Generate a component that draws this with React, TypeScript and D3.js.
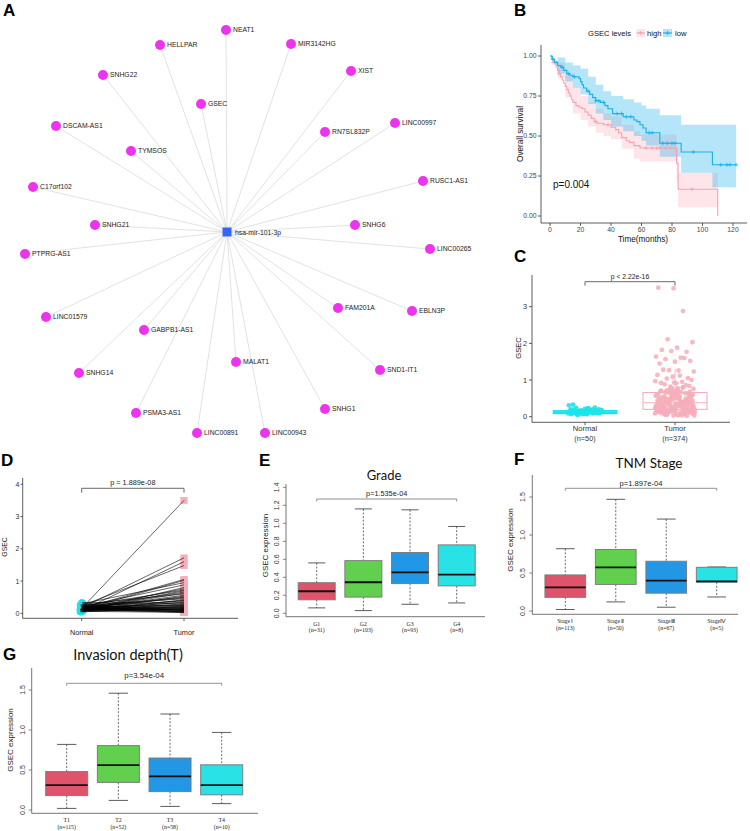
import React from 'react';
import * as d3 from 'd3';

const SANS = "'Liberation Sans', Arial, Helvetica, sans-serif";
const SERIF = "'Liberation Serif', 'Times New Roman', serif";
const TITLEF = "Lato, 'Open Sans', sans-serif";

// ---------- Panel A: ceRNA network ----------
const hubName = 'hsa-mir-101-3p';
const lncNames = ['NEAT1', 'HELLPAR', 'SNHG22', 'GSEC', 'DSCAM-AS1', 'TYMSOS', 'C17orf102', 'MIR3142HG', 'XIST', 'LINC00997', 'RN7SL832P', 'RUSC1-AS1', 'SNHG21', 'PTPRG-AS1', 'LINC01579', 'GABPB1-AS1', 'SNHG14', 'MALAT1', 'SNHG6', 'LINC00265', 'FAM201A', 'EBLN3P', 'SND1-IT1', 'SNHG1', 'PSMA3-AS1', 'LINC00891', 'LINC00943'];
const lncDX = [-1, -67, -124, -26, -171, -96, -194, 64, 124, 168, 98, 196, -132, -202, -181, -83, -148, 9, 128, 203, 111, 185, 153, 98, -91, -30, 38];
const lncDY = [-202, -187, -157, -128, -106, -81, -45, -188, -161, -109, -100, -51, -7, 22, 85, 98, 141, 130, -7, 17, 76, 79, 138, 177, 181, 201, 201];

// ---------- Panel B: Kaplan-Meier ----------
const kmLowT = [0, 1.5, 3, 5, 7, 9, 11, 13, 15, 19, 20, 21, 22, 24, 26, 28, 30, 33, 36, 38, 41, 48, 55, 57, 59, 61, 63, 72, 86, 106.5];
const kmLowS = [1.0, 0.98, 0.96, 0.94, 0.93, 0.91, 0.89, 0.88, 0.87, 0.86, 0.84, 0.82, 0.80, 0.78, 0.76, 0.74, 0.72, 0.71, 0.69, 0.67, 0.64, 0.62, 0.60, 0.59, 0.57, 0.55, 0.52, 0.455, 0.40, 0.32];
const kmLowEnd = 122;
const kmHighT = [0, 1, 2, 3, 4, 5, 6, 7, 8, 9, 10, 11, 12, 13, 14, 15, 17, 19, 21, 23, 25, 27, 29, 31, 35, 40, 43, 45, 47, 50, 52, 55, 59, 83, 84, 110];
const kmHighS = [1.0, 0.98, 0.96, 0.95, 0.93, 0.91, 0.89, 0.87, 0.85, 0.83, 0.81, 0.79, 0.77, 0.75, 0.73, 0.71, 0.69, 0.68, 0.67, 0.65, 0.63, 0.61, 0.59, 0.58, 0.57, 0.555, 0.54, 0.52, 0.49, 0.47, 0.46, 0.44, 0.425, 0.33, 0.167, 0.0];
const kmHighEnd = 110;
const bandLowT = [0, 5, 10, 15, 20, 25, 30, 35, 40, 48, 55, 60, 63, 72, 86, 106.5, 122];
const bandLowUp = [1.0, 0.99, 0.96, 0.94, 0.92, 0.87, 0.82, 0.78, 0.75, 0.73, 0.71, 0.69, 0.67, 0.63, 0.57, 0.57, 0.57];
const bandLowLo = [1.0, 0.89, 0.84, 0.80, 0.76, 0.70, 0.64, 0.60, 0.56, 0.53, 0.50, 0.47, 0.44, 0.37, 0.27, 0.18, 0.18];
const bandHighT = [0, 5, 10, 15, 20, 25, 30, 35, 40, 47, 55, 59, 83, 84, 110];
const bandHighUp = [1.0, 0.96, 0.88, 0.80, 0.75, 0.71, 0.67, 0.64, 0.62, 0.57, 0.53, 0.51, 0.42, 0.27, 0.27];
const bandHighLo = [1.0, 0.86, 0.74, 0.64, 0.60, 0.56, 0.52, 0.50, 0.48, 0.42, 0.36, 0.34, 0.22, 0.055, 0.055];
const censLow = [2, 4, 8, 12, 16, 25, 30, 32, 35, 44, 47, 50, 53, 65, 67, 74, 77, 80, 82, 94, 112, 116, 118, 122];
const censHigh = [2, 6, 30, 38, 63, 67, 70, 72, 76, 79, 82, 93];
const kmTicksX = [0, 20, 40, 60, 80, 100, 120];
const kmTicksY = [0, 0.25, 0.5, 0.75, 1.0];

// ---------- Panel C: Normal vs Tumor scatter ----------
const cGroups = ['Normal', 'Tumor'];
const cCounts = ['(n=50)', '(n=374)'];
const normalC = [0.12, 0.15, 0.09, 0.18, 0.22, 0.11, 0.14, 0.08, 0.2, 0.13, 0.16, 0.1, 0.07, 0.19, 0.25, 0.12, 0.31, 0.17, 0.06, 0.14, 0.21, 0.11, 0.09, 0.15, 0.13, 0.23, 0.1, 0.18, 0.08, 0.16, 0.12, 0.05, 0.2, 0.14, 0.33, 0.11, 0.17, 0.09, 0.13, 0.24, 0.1, 0.15, 0.07, 0.19, 0.12, 0.16, 0.08, 0.14, 0.11, 0.13];
const tumorC = [3.5, 3.52, 2.88, 2.11, 2.03, 1.88, 1.82, 1.77, 1.79, 1.64, 1.61, 1.57, 1.52, 1.5, 1.45, 1.6, 1.27, 1.23, 1.26, 1.28, 1.05, 1.09, 1.14, 0.95, 1.04, 1.0, 0.91, 0.92, 0.86, 0.82, 0.97, 1.12, 0.88, 0.84, 0.93,
  0.41, 0.12, 0.66, 0.28, 0.05, 0.52, 0.19, 0.74, 0.33, 0.08, 0.45, 0.61, 0.23, 0.15, 0.38, 0.7, 0.03, 0.29, 0.55, 0.11,
  0.47, 0.2, 0.79, 0.36, 0.09, 0.62, 0.26, 0.42, 0.14, 0.57, 0.31, 0.06, 0.68, 0.22, 0.49, 0.17, 0.35, 0.76, 0.04, 0.44,
  0.27, 0.59, 0.13, 0.39, 0.72, 0.21, 0.5, 0.1, 0.64, 0.32, 0.18, 0.46, 0.07, 0.54, 0.25, 0.37, 0.8, 0.16, 0.43, 0.6,
  0.3, 0.02, 0.48, 0.24, 0.67, 0.12, 0.4, 0.56, 0.19, 0.34, 0.73, 0.09, 0.51, 0.28, 0.63, 0.15, 0.44, 0.22, 0.05, 0.58,
  0.36, 0.71, 0.18, 0.47, 0.26, 0.11, 0.53, 0.39, 0.65, 0.2, 0.08, 0.45, 0.3, 0.77, 0.14, 0.42, 0.24, 0.6, 0.35, 0.06,
  0.5, 0.17, 0.69, 0.29, 0.43, 0.12, 0.55, 0.21, 0.38, 0.03, 0.62, 0.27, 0.48, 0.16, 0.75, 0.33, 0.1, 0.57, 0.23, 0.4,
  0.66, 0.19, 0.31, 0.52, 0.07, 0.46, 0.25, 0.7, 0.13, 0.37, 0.59, 0.22, 0.04, 0.44, 0.32, 0.64, 0.18, 0.49, 0.28, 0.09,
  0.54, 0.35, 0.15, 0.68, 0.26, 0.41, 0.11, 0.6, 0.3, 0.2, 0.47, 0.78, 0.14, 0.38, 0.24, 0.56, 0.08, 0.43, 0.33, 0.17];
const cBoxNormal = [0.05, 0.09, 0.125, 0.16, 0.25];
const cBoxTumor = [0.02, 0.2, 0.38, 0.66, 1.3];
const cTicks = [0, 1, 2, 3];

// ---------- Panel D: paired ----------
const dGroups = ['Normal', 'Tumor'];
const normalD = [0.12, 0.18, 0.08, 0.25, 0.15, 0.1, 0.3, 0.2, 0.05, 0.14, 0.22, 0.09, 0.17, 0.11, 0.28, 0.13, 0.07, 0.19, 0.16, 0.24, 0.06, 0.12, 0.21, 0.1, 0.15, 0.33, 0.08, 0.18, 0.13, 0.26, 0.11, 0.04, 0.2, 0.14, 0.09, 0.17, 0.23, 0.12, 0.07, 0.16, 0.1, 0.19, 0.13, 0.27, 0.08, 0.15, 0.11, 0.22, 0.06, 0.14];
const tumorD = [3.5, 1.72, 1.6, 1.48, 1.05, 1.02, 0.95, 0.88, 0.8, 0.76, 0.72, 0.7, 0.66, 0.63, 0.6, 0.56, 0.53, 0.5, 0.48, 0.45, 0.42, 0.4, 0.38, 0.35, 0.33, 0.31, 0.29, 0.27, 0.25, 0.24, 0.22, 0.21, 0.2, 0.18, 0.17, 0.16, 0.15, 0.14, 0.13, 0.12, 0.11, 0.1, 0.09, 0.08, 0.07, 0.06, 0.05, 0.04, 0.03, 0.02];
const dTicks = [0, 1, 2, 3, 4];

// ---------- Panels E, F, G: box plots [lower whisker, q1, median, q3, upper whisker] ----------
const boxColors = ['#DF536B', '#61D04F', '#2297E6', '#28E2E5'];
const eGroups = ['G1', 'G2', 'G3', 'G4'];
const eCounts = ['(n=31)', '(n=103)', '(n=93)', '(n=8)'];
const eStats = [[0.06, 0.15, 0.245, 0.34, 0.56], [0.03, 0.18, 0.345, 0.585, 1.16], [0.10, 0.33, 0.455, 0.675, 1.15], [0.115, 0.305, 0.43, 0.76, 0.965]];
const eTicks = [0, 0.2, 0.4, 0.6, 0.8, 1.0, 1.2, 1.4];
const fGroups = ['Stage Ⅰ', 'Stage Ⅱ', 'StageⅢ', 'StageⅣ'];
const fCounts = ['(n=113)', '(n=50)', '(n=67)', '(n=5)'];
const fStats = [[0.02, 0.18, 0.31, 0.475, 0.82], [0.12, 0.35, 0.575, 0.81, 1.47], [0.05, 0.235, 0.40, 0.655, 1.21], [0.185, 0.38, 0.39, 0.575, 0.58]];
const gGroups = ['T1', 'T2', 'T3', 'T4'];
const gCounts = ['(n=115)', '(n=52)', '(n=58)', '(n=10)'];
const gStats = [[0.02, 0.18, 0.31, 0.48, 0.82], [0.12, 0.345, 0.56, 0.805, 1.46], [0.045, 0.23, 0.42, 0.65, 1.20], [0.08, 0.19, 0.31, 0.565, 0.97]];
const fgTicks = [0, 0.5, 1.0, 1.5];

const jit = (i: number) => ((i * 0.6180339887 + 0.137) % 1) - 0.5;

function PanelLabel({ x, y, t }: { x: number; y: number; t: string }) {
  return <text x={x} y={y} fontFamily={SANS} fontWeight="bold" fontSize={17} fill="#000">{t}</text>;
}

function Network() {
  const xA = d3.scaleLinear().domain([-227, 293]).range([0, 520]);
  const yA = d3.scaleLinear().domain([-232, 218]).range([0, 450]);
  const hx = xA(0), hy = yA(0);
  return (
    <g>
      {lncNames.map((n, i) => (
        <line key={'e' + n} x1={hx} y1={hy} x2={xA(lncDX[i])} y2={yA(lncDY[i])} stroke="#d6d6d6" strokeWidth={0.7} />
      ))}
      {lncNames.map((n, i) => (
        <g key={n}>
          <circle cx={xA(lncDX[i])} cy={yA(lncDY[i])} r={5} fill="#EE33EE" />
          <text x={xA(lncDX[i]) + 7} y={yA(lncDY[i])} dy="0.35em" fontSize={6.8} fontFamily={SANS} fill="#222">{n}</text>
        </g>
      ))}
      <rect x={hx - 4.5} y={hy - 4.5} width={9} height={9} fill="#3366FF" />
      <text x={hx + 8} y={hy} dy="0.4em" fontSize={6.8} fontFamily={SANS} fill="#222">{hubName}</text>
    </g>
  );
}

function KM() {
  const xB = d3.scaleLinear().domain([0, 120]).range([550, 733]);
  const yB = d3.scaleLinear().domain([0, 1]).range([216, 56]);
  const line = d3.line<number[]>().x(d => xB(d[0])).y(d => yB(d[1])).curve(d3.curveStepAfter);
  const area = d3.area<number[]>().x(d => xB(d[0])).y0(d => yB(d[2])).y1(d => yB(d[1])).curve(d3.curveStepAfter);
  const lowPts = kmLowT.map((t, i) => [t, kmLowS[i]]).concat([[kmLowEnd, kmLowS[kmLowS.length - 1]]]);
  const highPts = kmHighT.map((t, i) => [t, kmHighS[i]]).concat([[kmHighEnd, kmHighS[kmHighS.length - 1]]]);
  const lowBand = bandLowT.map((t, i) => [t, bandLowUp[i], bandLowLo[i]]);
  const highBand = bandHighT.map((t, i) => [t, bandHighUp[i], bandHighLo[i]]);
  const stepAt = (ts: number[], ss: number[], t: number) => { let v = ss[0]; ts.forEach((tt, i) => { if (tt <= t) v = ss[i]; }); return v; };
  const pink = '#F4A3B4', blue = '#1AAFE8';
  const cross = (x: number, y: number) => `M${x - 2},${y}h4M${x},${y - 2}v4`;
  return (
    <g fontFamily={SANS}>
      <path d={area(highBand) || ''} fill="#F7A8B8" fillOpacity={0.3} />
      <path d={area(lowBand) || ''} fill="#2BB5EE" fillOpacity={0.35} />
      <path d={line(highPts) || ''} fill="none" stroke={pink} strokeWidth={1.1} />
      <path d={line(lowPts) || ''} fill="none" stroke={blue} strokeWidth={1.1} />
      {censHigh.map((t, i) => <path key={'ch' + i} d={cross(xB(t), yB(stepAt(kmHighT, kmHighS, t)))} stroke={pink} strokeWidth={0.8} />)}
      {censLow.map((t, i) => <path key={'cl' + i} d={cross(xB(t), yB(stepAt(kmLowT, kmLowS, t)))} stroke={blue} strokeWidth={0.8} />)}
      <line x1={541} x2={541} y1={45} y2={223} stroke="#333" strokeWidth={0.8} />
      <line x1={541} x2={747} y1={223} y2={223} stroke="#333" strokeWidth={0.8} />
      {kmTicksY.map(v => (
        <g key={'ky' + v}>
          <line x1={538} x2={541} y1={yB(v)} y2={yB(v)} stroke="#333" strokeWidth={0.8} />
          <text x={536.5} y={yB(v)} dy="0.35em" textAnchor="end" fontSize={6.8} fill="#444">{d3.format('.2f')(v)}</text>
        </g>
      ))}
      {kmTicksX.map(v => (
        <g key={'kx' + v}>
          <line x1={xB(v)} x2={xB(v)} y1={223} y2={226} stroke="#333" strokeWidth={0.8} />
          <text x={xB(v)} y={231.5} textAnchor="middle" fontSize={6.8} fill="#444">{v}</text>
        </g>
      ))}
      <text x={643} y={241.5} textAnchor="middle" fontSize={8.2} fill="#111">Time(months)</text>
      <text transform="translate(522.5,134) rotate(-90)" textAnchor="middle" fontSize={8.2} fill="#111">Overall survival</text>
      <text x={553} y={187.5} fontSize={10} fill="#111">p=0.004</text>
      <text x={588} y={36} fontSize={7.6} fill="#111">GSEC levels</text>
      <rect x={636.5} y={29} width={8.5} height={8} fill="#F7A8B8" fillOpacity={0.3} />
      <line x1={636.5} x2={645} y1={33} y2={33} stroke={pink} strokeWidth={1.1} />
      <path d={cross(640.75, 33)} stroke={pink} strokeWidth={0.8} />
      <text x={647} y={36} fontSize={7.6} fill="#111">high</text>
      <rect x={663} y={29} width={9} height={8} fill="#2BB5EE" fillOpacity={0.35} />
      <line x1={663} x2={672} y1={33} y2={33} stroke={blue} strokeWidth={1.1} />
      <path d={cross(667.5, 33)} stroke={blue} strokeWidth={0.8} />
      <text x={675} y={36} fontSize={7.6} fill="#111">low</text>
    </g>
  );
}

function PanelC() {
  const yC = d3.scaleLinear().domain([0, 3]).range([416.7, 306.7]);
  const xC = d3.scalePoint().domain(cGroups).range([585, 675]);
  const xn = xC('Normal') as number, xt = xC('Tumor') as number;
  const cyan = '#1CE3EA', pink = '#F6AEBB';
  const box = (s: number[], x: number, w: number, col: string, sw: number) => (
    <g>
      <line x1={x} x2={x} y1={yC(s[4])} y2={yC(s[3])} stroke={col} strokeWidth={0.9} />
      <line x1={x} x2={x} y1={yC(s[1])} y2={yC(s[0])} stroke={col} strokeWidth={0.9} />
      <rect x={x - w / 2} y={yC(s[3])} width={w} height={yC(s[1]) - yC(s[3])} fill="none" stroke={col} strokeWidth={sw} />
      <line x1={x - w / 2} x2={x + w / 2} y1={yC(s[2])} y2={yC(s[2])} stroke={col} strokeWidth={sw} />
    </g>
  );
  return (
    <g fontFamily={SANS}>
      {box(cBoxNormal, xn, 63, cyan, 1.6)}
      {box(cBoxTumor, xt, 64, pink, 1.1)}
      {normalC.map((v, i) => <circle key={'n' + i} cx={xn + jit(i) * 34} cy={yC(v)} r={2.4} fill={cyan} fillOpacity={0.9} />)}
      {tumorC.map((v, i) => <circle key={'t' + i} cx={xt + jit(i + 7) * 40} cy={yC(v)} r={2.4} fill={pink} fillOpacity={0.85} />)}
      <line x1={532} x2={532} y1={275} y2={422.3} stroke="#333" strokeWidth={0.8} />
      <line x1={532} x2={730} y1={422.3} y2={422.3} stroke="#333" strokeWidth={0.8} />
      {cTicks.map(v => (
        <g key={'ct' + v}>
          <line x1={529} x2={532} y1={yC(v)} y2={yC(v)} stroke="#333" strokeWidth={0.8} />
          <text x={527} y={yC(v)} dy="0.35em" textAnchor="end" fontSize={7.3} fill="#333">{v}</text>
        </g>
      ))}
      {cGroups.map((g, i) => (
        <g key={g}>
          <line x1={xC(g) as number} x2={xC(g) as number} y1={422.3} y2={425.3} stroke="#333" strokeWidth={0.8} />
          <text x={xC(g) as number} y={431} textAnchor="middle" fontSize={7.6} fill="#333">{g}</text>
          <text x={xC(g) as number} y={441.3} textAnchor="middle" fontSize={7.3} fill="#333">{cCounts[i]}</text>
        </g>
      ))}
      <text transform="translate(521,348) rotate(-90)" textAnchor="middle" fontSize={7.6} fill="#111">GSEC</text>
      <path d={`M${xn},285.7V281.7H${xt}V285.7`} fill="none" stroke="#444" strokeWidth={0.8} />
      <text x={(xn + xt) / 2} y={279} textAnchor="middle" fontSize={6.8} fill="#222">p &lt; 2.22e-16</text>
    </g>
  );
}

function PanelD() {
  const yD = d3.scaleLinear().domain([0, 4]).range([613.3, 484.3]);
  const xD = d3.scalePoint().domain(dGroups).range([81.7, 184]);
  const xn = xD('Normal') as number, xt = xD('Tumor') as number;
  return (
    <g fontFamily={SANS}>
      {normalD.map((v, i) => <circle key={'dn' + i} cx={xn + jit(i) * 3} cy={yD(v)} r={3.6} fill="#1CE3EA" />)}
      {tumorD.map((v, i) => <rect key={'dt' + i} x={xt - 3.6} y={yD(v) - 3.4} width={7.2} height={6.8} fill="#F6AEBB" />)}
      {normalD.map((v, i) => <line key={'dl' + i} x1={xn + jit(i) * 3} y1={yD(v)} x2={xt} y2={yD(tumorD[i])} stroke="#000" strokeWidth={0.6} />)}
      <line x1={22.7} x2={22.7} y1={478} y2={618.3} stroke="#333" strokeWidth={0.8} />
      <line x1={22.7} x2={238} y1={618.3} y2={618.3} stroke="#333" strokeWidth={0.8} />
      {dTicks.map(v => (
        <g key={'dy' + v}>
          <line x1={20.5} x2={22.7} y1={yD(v)} y2={yD(v)} stroke="#333" strokeWidth={0.8} />
          <text x={19.5} y={yD(v)} dy="0.35em" textAnchor="end" fontSize={7} fill="#333">{v}</text>
        </g>
      ))}
      {dGroups.map(g => (
        <g key={g}>
          <line x1={xD(g) as number} x2={xD(g) as number} y1={618.3} y2={621} stroke="#333" strokeWidth={0.8} />
          <text x={xD(g) as number} y={635} textAnchor="middle" fontSize={7.3} fill="#222">{g}</text>
        </g>
      ))}
      <text transform="translate(7,547) rotate(-90)" textAnchor="middle" fontSize={6.8} fill="#222">GSEC</text>
      <path d={`M${xn},492.7V488.3H${xt}V492.7`} fill="none" stroke="#444" strokeWidth={0.8} />
      <text x={(xn + xt) / 2} y={484.5} textAnchor="middle" fontSize={7.3} fill="#222">p = 1.889e-08</text>
    </g>
  );
}

type BoxCfg = {
  title: string; titleX: number; titleY: number; titleSize: number;
  groups: string[]; counts: string[]; stats: number[][]; ticks: number[];
  yDomain: [number, number]; yRange: [number, number];
  xFirst: number; xLast: number; axisX0: number; axisX1: number;
  tickLabX: number; ylabX: number; ylabY: number;
  bracketY: number; pY: number; pText: string; pSize: number;
  grpY1: number; grpY2: number; boxW: number;
};

function BoxPanel({ c }: { c: BoxCfg }) {
  const y = d3.scaleLinear().domain(c.yDomain).range(c.yRange);
  const x = d3.scaleLinear().domain([0, c.groups.length - 1]).range([c.xFirst, c.xLast]);
  const fmt = d3.format('.1f');
  const yTop = c.yRange[1], yBot = c.yRange[0];
  return (
    <g fontFamily={SANS}>
      <text x={c.titleX} y={c.titleY} textAnchor="middle" fontFamily={TITLEF} fontSize={c.titleSize} fill="#111">{c.title}</text>
      {c.stats.map((s, i) => {
        const cx = x(i), w = c.boxW, cap = w * 0.23;
        return (
          <g key={'b' + i}>
            <line x1={cx} x2={cx} y1={y(s[4])} y2={y(s[3])} stroke="#444" strokeWidth={0.8} strokeDasharray="2,1.6" />
            <line x1={cx} x2={cx} y1={y(s[1])} y2={y(s[0])} stroke="#444" strokeWidth={0.8} strokeDasharray="2,1.6" />
            <line x1={cx - cap} x2={cx + cap} y1={y(s[4])} y2={y(s[4])} stroke="#333" strokeWidth={0.8} />
            <line x1={cx - cap} x2={cx + cap} y1={y(s[0])} y2={y(s[0])} stroke="#333" strokeWidth={0.8} />
            <rect x={cx - w / 2} y={y(s[3])} width={w} height={y(s[1]) - y(s[3])} fill={boxColors[i]} stroke="#7d7d7d" strokeWidth={1} />
            <line x1={cx - w / 2} x2={cx + w / 2} y1={y(s[2])} y2={y(s[2])} stroke="#111" strokeWidth={1.8} />
            <text x={cx} y={c.grpY1} textAnchor="middle" fontFamily={SERIF} fontSize={5.8} fill="#222">{c.groups[i]}</text>
            <text x={cx} y={c.grpY2} textAnchor="middle" fontFamily={SERIF} fontSize={5.8} fill="#222">{c.counts[i]}</text>
          </g>
        );
      })}
      <line x1={c.axisX0} x2={c.axisX0} y1={yTop} y2={yBot} stroke="#666" strokeWidth={0.9} />
      <line x1={c.axisX0} x2={c.axisX1} y1={yBot} y2={yBot} stroke="#666" strokeWidth={0.9} />
      {c.ticks.map(v => (
        <g key={'t' + v}>
          <line x1={c.axisX0 - 3} x2={c.axisX0} y1={y(v)} y2={y(v)} stroke="#666" strokeWidth={0.8} />
          <text transform={`translate(${c.tickLabX},${y(v)}) rotate(-90)`} textAnchor="middle" fontSize={7} fill="#333">{fmt(v)}</text>
        </g>
      ))}
      <text transform={`translate(${c.ylabX},${c.ylabY}) rotate(-90)`} textAnchor="middle" fontSize={8} fill="#222">GSEC expression</text>
      <path d={`M${x(0)},${c.bracketY + 2.5}V${c.bracketY}H${x(c.groups.length - 1)}V${c.bracketY + 2.5}`} fill="none" stroke="#777" strokeWidth={0.8} />
      <text x={(x(0) + x(c.groups.length - 1)) / 2} y={c.pY} textAnchor="middle" fontSize={c.pSize} fill="#222">{c.pText}</text>
    </g>
  );
}

const eCfg: BoxCfg = {
  title: 'Grade', titleX: 384, titleY: 480, titleSize: 13,
  groups: eGroups, counts: eCounts, stats: eStats, ticks: eTicks,
  yDomain: [-0.038, 1.437], yRange: [616.7, 484],
  xFirst: 316.7, xLast: 456.7, axisX0: 286, axisX1: 485,
  tickLabX: 279, ylabX: 268, ylabY: 545.5,
  bracketY: 499, pY: 496, pText: 'p=1.535e-04', pSize: 7.3,
  grpY1: 625.5, grpY2: 632, boxW: 37,
};
const fCfg: BoxCfg = {
  title: 'TNM Stage', titleX: 649, titleY: 467.5, titleSize: 13.5,
  groups: fGroups, counts: fCounts, stats: fStats, ticks: fgTicks,
  yDomain: [-0.043, 1.79], yRange: [614.3, 475],
  xFirst: 565.3, xLast: 716.7, axisX0: 532.3, axisX1: 738,
  tickLabX: 525, ylabX: 513, ylabY: 540,
  bracketY: 488.3, pY: 485.5, pText: 'p=1.897e-04', pSize: 7.6,
  grpY1: 623, grpY2: 630, boxW: 40.7,
};
const gCfg: BoxCfg = {
  title: 'Invasion depth(T)', titleX: 128, titleY: 660, titleSize: 14.5,
  groups: gGroups, counts: gCounts, stats: gStats, ticks: fgTicks,
  yDomain: [-0.041, 1.775], yRange: [813.3, 668],
  xFirst: 66.7, xLast: 221.7, axisX0: 31.7, axisX1: 258,
  tickLabX: 25, ylabX: 12.7, ylabY: 740,
  bracketY: 683.3, pY: 678, pText: 'p=3.54e-04', pSize: 7.8,
  grpY1: 822, grpY2: 829, boxW: 42,
};

export default function App() {
  return (
    <svg width={750} height={831} viewBox="0 0 750 831" style={{ position: 'absolute', left: 0, top: 0, background: '#fff' }}>
      <rect x={0} y={0} width={750} height={831} fill="#fff" />
      <Network />
      <KM />
      <PanelC />
      <PanelD />
      <BoxPanel c={eCfg} />
      <BoxPanel c={fCfg} />
      <BoxPanel c={gCfg} />
      <PanelLabel x={3} y={16} t="A" />
      <PanelLabel x={514} y={16} t="B" />
      <PanelLabel x={514} y={262} t="C" />
      <PanelLabel x={1} y={466} t="D" />
      <PanelLabel x={259} y={466} t="E" />
      <PanelLabel x={514} y={465} t="F" />
      <PanelLabel x={3} y={660} t="G" />
    </svg>
  );
}
